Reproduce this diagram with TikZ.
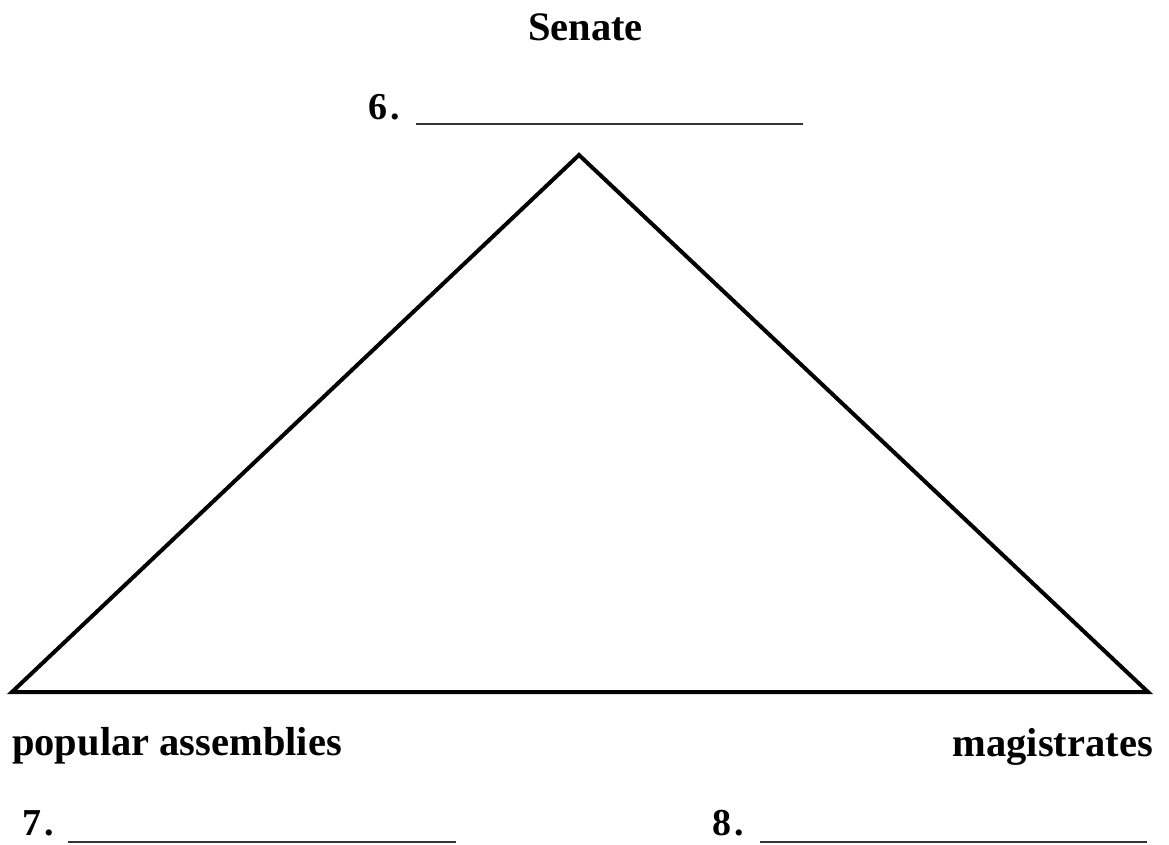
\documentclass[tikz,border=0pt]{standalone}
\usepackage{fontspec}
\setmainfont{Liberation Serif}
\begin{document}
\begin{tikzpicture}[x=1pt,y=-1pt,
  lbl/.style={inner sep=0pt,font=\fontsize{40.5}{48}\selectfont\bfseries},
  num/.style={inner sep=0pt,anchor=base west,font=\fontsize{38}{44}\selectfont\bfseries},
  blank/.style={line width=1.8pt,color=black!80},
  tri/.style={line width=4pt,line join=miter}]
\useasboundingbox (0,0) rectangle (1169,844);
% triangle
\coordinate (top) at (579,155);
\coordinate (bl) at (12,692);
\coordinate (br) at (1148,692);
\draw[tri] (top) -- (br) -- (bl) -- cycle;
% labels
\node[lbl,anchor=base west] (senate) at (528,40) {Senate};
\node[lbl,anchor=base west] (popular) at (12,755) {popular assemblies};
\node[lbl,anchor=base east] (magis) at (1153,756) {magistrates};
% numbered blanks
\node[num] (n6) at (368,119) {6\kern3pt.};
\node[num] (n7) at (22,835) {7\kern3pt.};
\node[num] (n8) at (712,835) {8\kern3pt.};
\coordinate (l6a) at (416,124); \coordinate (l6b) at (803,124);
\coordinate (l7a) at (68,842);  \coordinate (l7b) at (456,842);
\coordinate (l8a) at (760,842); \coordinate (l8b) at (1147,842);
\draw[blank] (l6a) -- (l6b);
\draw[blank] (l7a) -- (l7b);
\draw[blank] (l8a) -- (l8b);
\end{tikzpicture}
\end{document}
